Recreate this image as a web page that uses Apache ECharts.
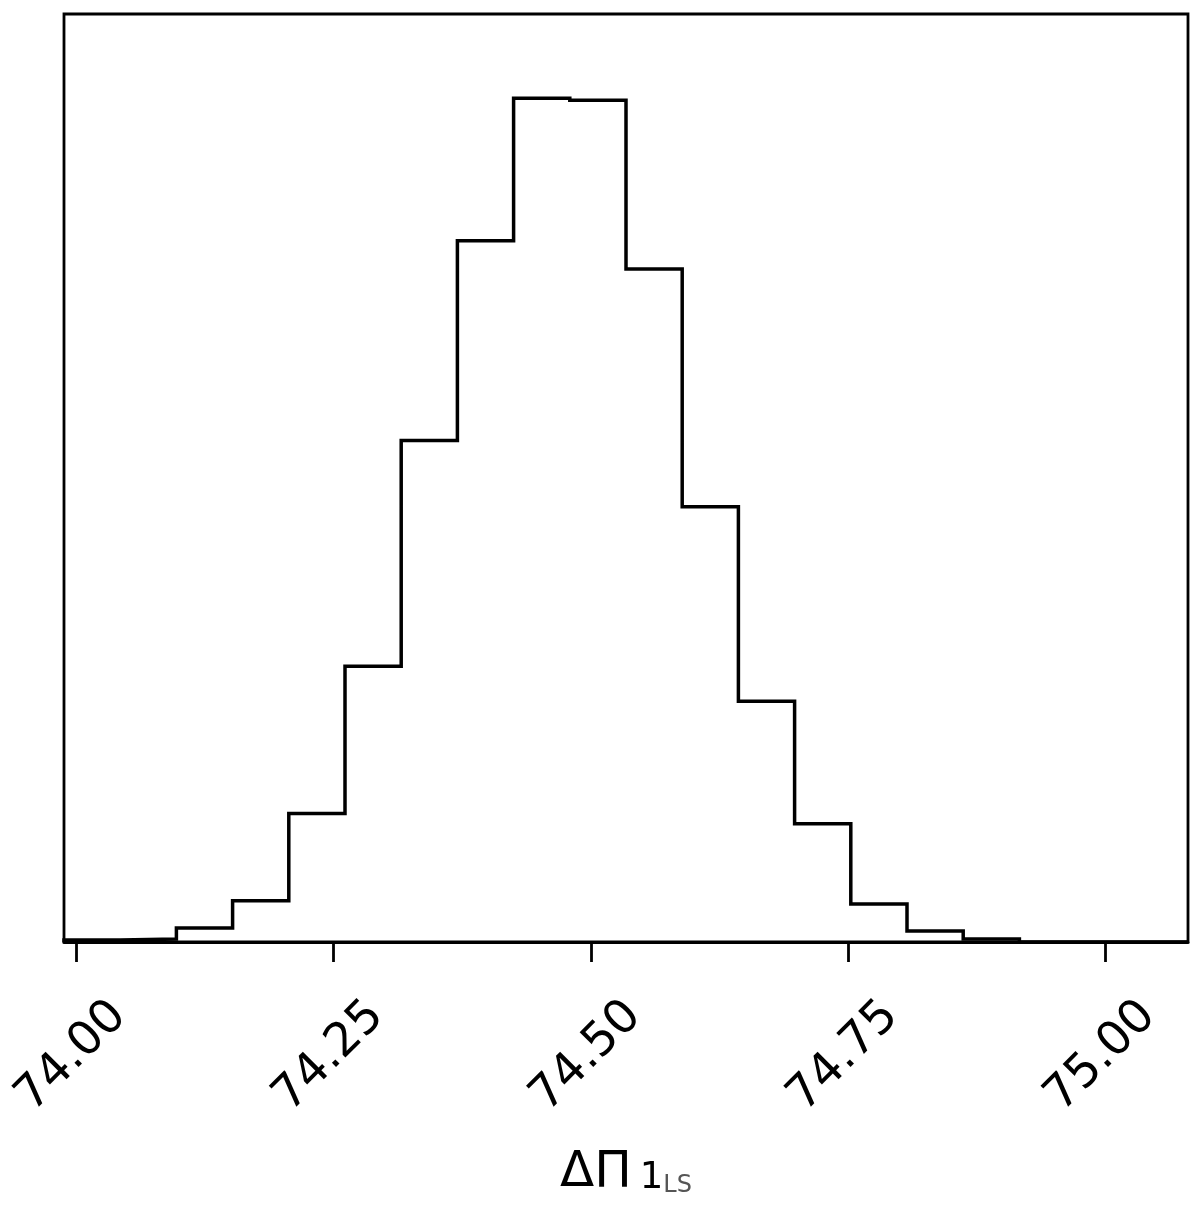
<!DOCTYPE html>
<html>
<head>
<meta charset="utf-8">
<style>
  html, body { margin: 0; padding: 0; background: #ffffff; }
  #chart { width: 1200px; height: 1216px; }
</style>
<script src="https://cdn.jsdelivr.net/npm/echarts@6/dist/echarts.min.js"></script>
</head>
<body>
<div id="chart"></div>
<script>
// Histogram bin edges (x values) and counts
const binEdges = [73.988, 74.0426, 74.0972, 74.1518, 74.2064, 74.261, 74.3156, 74.3702,
                  74.4248, 74.4794, 74.534, 74.5886, 74.6432, 74.6978, 74.7524, 74.807,
                  74.8616, 74.9162, 74.9708, 75.0254, 75.080];
const counts = [2, 3, 14, 41, 128, 275, 500, 699, 841, 839, 671, 434, 240, 118, 38, 11, 3, 0, 0, 0];
const tickValues = [74.00, 74.25, 74.50, 74.75, 75.00];

// Build step outline (matplotlib histtype="step")
const stepData = [[binEdges[0], 0]];
for (let i = 0; i < counts.length; i++) {
  stepData.push([binEdges[i], counts[i]]);
  stepData.push([binEdges[i + 1], counts[i]]);
}
stepData.push([binEdges[binEdges.length - 1], 0]);

const yMax = 1.1 * Math.max.apply(null, counts);

const chart = echarts.init(document.getElementById('chart'), null, { renderer: 'canvas' });
chart.setOption({
  animation: false,
  backgroundColor: '#ffffff',
  grid: {
    left: 64, right: 12, top: 14, bottom: 274,
    show: true, borderColor: '#000000', borderWidth: 2.8, backgroundColor: 'transparent'
  },
  xAxis: {
    type: 'value',
    min: binEdges[0],
    max: binEdges[binEdges.length - 1],
    splitLine: { show: false },
    axisLine: { show: true, onZero: false, lineStyle: { color: '#000000', width: 2.8 } },
    axisTick: {
      show: true, inside: false, length: 20, customValues: tickValues,
      lineStyle: { color: '#000000', width: 2.8 }
    },
    axisLabel: {
      show: true, customValues: tickValues, rotate: 45, margin: 110,
      align: 'center', verticalAlign: 'middle',
      padding: [0, 13, 13, 0],
      fontFamily: 'DejaVu Sans', fontSize: 47, color: '#000000',
      formatter: function (v) { return v.toFixed(2); }
    },
    name: '{a|ΔΠ}{b|1}{c|LS}',
    nameLocation: 'middle',
    nameGap: 206,
    nameTextStyle: {
      fontFamily: 'DejaVu Sans',
      rich: {
        a: { fontFamily: 'DejaVu Sans', fontSize: 50, lineHeight: 60, verticalAlign: 'top', color: '#000000' },
        b: { fontFamily: 'DejaVu Sans', fontSize: 37, lineHeight: 60, verticalAlign: 'top', color: '#000000', padding: [12, 0, 0, 8] },
        c: { fontFamily: 'DejaVu Sans', fontSize: 24, lineHeight: 60, verticalAlign: 'top', color: '#555555', padding: [26, 0, 0, 0] }
      }
    }
  },
  yAxis: {
    type: 'value',
    min: 0,
    max: yMax,
    show: true,
    axisLine: { show: false },
    axisTick: { show: false },
    axisLabel: { show: false },
    splitLine: { show: false }
  },
  series: [{
    type: 'line',
    data: stepData,
    symbol: 'none',
    clip: false,
    lineStyle: { color: '#000000', width: 3.5, join: 'miter', cap: 'butt' }
  }]
});
</script>
</body>
</html>
